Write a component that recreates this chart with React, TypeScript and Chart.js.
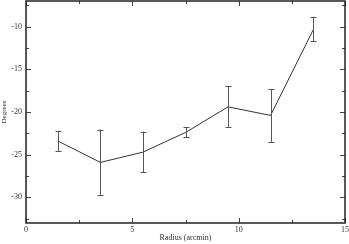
import React, { useEffect, useRef } from "react";
import { Chart, registerables } from "chart.js";
Chart.register(...registerables);

const radius = [1.5, 3.5, 5.5, 7.5, 9.5, 11.5, 13.5];
const degrees = [-23.4, -25.9, -24.7, -22.4, -19.4, -20.4, -10.4];
const errHigh = [-22.2, -22.05, -22.3, -21.8, -17.0, -17.3, -8.85];
const errLow = [-24.6, -29.7, -27.05, -22.95, -21.75, -23.5, -11.7];
const xMajor = [0, 5, 10, 15];
const xMinor = [2.5, 7.5, 12.5];
const yMajor = [-30, -25, -20, -15, -10];
const yMinor = [-32.5, -27.5, -22.5, -17.5, -12.5, -7.5];

const FONT = "'Liberation Serif', 'Times New Roman', serif";

const framePlugin = {
  id: "frame",
  afterDatasetsDraw(chart: any) {
    const { ctx, chartArea: a, scales } = chart;
    const xs = scales.x, ys = scales.y;
    ctx.save();
    ctx.strokeStyle = "#555";
    ctx.lineWidth = 1;
    radius.forEach((r, i) => {
      const px = Math.round(xs.getPixelForValue(r)) + 0.5;
      const yt = ys.getPixelForValue(errHigh[i]);
      const yb = ys.getPixelForValue(errLow[i]);
      ctx.beginPath();
      ctx.moveTo(px, yt); ctx.lineTo(px, yb);
      ctx.moveTo(px - 3, Math.round(yt) + 0.5); ctx.lineTo(px + 3, Math.round(yt) + 0.5);
      ctx.moveTo(px - 3, Math.round(yb) + 0.5); ctx.lineTo(px + 3, Math.round(yb) + 0.5);
      ctx.stroke();
    });
    ctx.strokeStyle = "#444";
    ctx.lineWidth = 1;
    const tx = (v: number, len: number) => {
      const p = Math.round(xs.getPixelForValue(v)) + 0.5;
      ctx.beginPath();
      ctx.moveTo(p, a.bottom); ctx.lineTo(p, a.bottom - len);
      ctx.moveTo(p, a.top); ctx.lineTo(p, a.top + len);
      ctx.stroke();
    };
    const ty = (v: number, len: number) => {
      const p = Math.round(ys.getPixelForValue(v)) + 0.5;
      ctx.beginPath();
      ctx.moveTo(a.left, p); ctx.lineTo(a.left + len, p);
      ctx.moveTo(a.right, p); ctx.lineTo(a.right - len, p);
      ctx.stroke();
    };
    xMajor.forEach((v) => tx(v, 5));
    xMinor.forEach((v) => tx(v, 3));
    yMajor.forEach((v) => ty(v, 5));
    yMinor.forEach((v) => ty(v, 3));
    ctx.strokeStyle = "#222";
    ctx.lineWidth = 1.5;
    ctx.strokeRect(a.left, a.top, a.right - a.left, a.bottom - a.top);
    ctx.restore();
  },
};

export default function App() {
  const ref = useRef<HTMLCanvasElement | null>(null);
  useEffect(() => {
    document.body.style.margin = "0";
    const chart = new Chart(ref.current as HTMLCanvasElement, {
      type: "line",
      data: {
        datasets: [
          {
            data: radius.map((r, i) => ({ x: r, y: degrees[i] })),
            borderColor: "#333",
            borderWidth: 1,
            pointRadius: 0,
            fill: false,
            tension: 0,
          },
        ],
      },
      options: {
        animation: false,
        responsive: false,
        maintainAspectRatio: false,
        layout: { padding: { top: 1, right: 4, left: 0, bottom: 0 } },
        plugins: { legend: { display: false }, tooltip: { enabled: false } },
        scales: {
          x: {
            type: "linear",
            min: 0,
            max: 15,
            afterBuildTicks: (s: any) => { s.ticks = xMajor.map((v) => ({ value: v })); },
            afterFit: (s: any) => { s.height = 21; s.paddingLeft = 0; s.paddingRight = 0; },
            grid: { display: false, drawTicks: false },
            border: { display: false },
            ticks: { padding: 2, color: "#333", font: { family: FONT, size: 8 }, maxRotation: 0 },
            title: { display: true, text: "Radius (arcmin)", color: "#333", font: { family: FONT, size: 8 }, padding: { top: 0, bottom: 1 } },
          },
          y: {
            type: "linear",
            min: -33,
            max: -7,
            afterBuildTicks: (s: any) => { s.ticks = yMajor.map((v) => ({ value: v })); },
            afterFit: (s: any) => { s.width = 26; s.paddingTop = 0; s.paddingBottom = 0; },
            grid: { display: false, drawTicks: false },
            border: { display: false },
            ticks: { padding: 4, color: "#333", font: { family: FONT, size: 8 } },
            title: { display: true, text: "Degrees", color: "#333", font: { family: FONT, size: 7 }, padding: { top: 0, bottom: 0 } },
          },
        },
      },
      plugins: [framePlugin],
    } as any);
    return () => chart.destroy();
  }, []);
  return (
    <div style={{ width: 349, height: 244, background: "#fff" }}>
      <canvas ref={ref} width={349} height={244} style={{ display: "block" }} />
    </div>
  );
}
